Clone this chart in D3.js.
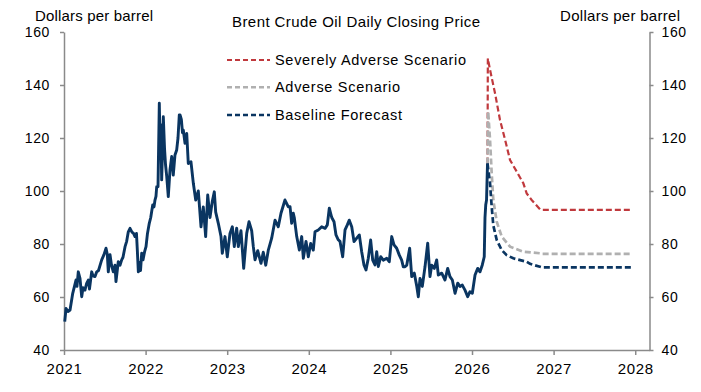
<!DOCTYPE html>
<html><head><meta charset="utf-8">
<script src="https://cdn.jsdelivr.net/npm/d3@7"></script>
<style>
body{margin:0;background:#fff}
svg text{font-family:"Liberation Sans",Arial,sans-serif;fill:#000}
</style></head>
<body><svg id="chart" width="701" height="392"></svg>
<script>
// ---------- data ----------
const yearTicks = [2021, 2022, 2023, 2024, 2025, 2026, 2027, 2028];
const priceTicks = [40, 60, 80, 100, 120, 140, 160];
const chartTitle = "Brent Crude Oil Daily Closing Price";
const axisTitle = "Dollars per barrel";
const seriesNames = ["Severely Adverse Scenario", "Adverse Scenario", "Baseline Forecast"];

// [decimal year, USD per barrel]
const history = [
 [2021.009,50.7],[2021.025,55.7],[2021.049,54.5],[2021.074,55.1],[2021.107,61.4],[2021.147,66.4],
 [2021.159,64.0],[2021.175,69.5],[2021.196,67.0],[2021.217,60.1],[2021.233,63.5],[2021.257,62.6],
 [2021.276,65.0],[2021.298,66.4],[2021.312,63.0],[2021.339,69.5],[2021.355,68.0],[2021.380,67.7],
 [2021.401,69.5],[2021.423,70.0],[2021.462,74.0],[2021.490,76.0],[2021.515,78.4],[2021.531,76.0],
 [2021.543,69.5],[2021.564,76.0],[2021.582,72.0],[2021.604,69.5],[2021.625,72.0],[2021.637,65.8],
 [2021.665,73.3],[2021.686,72.0],[2021.707,74.0],[2021.723,75.0],[2021.748,79.0],[2021.768,81.0],
 [2021.788,84.6],[2021.809,85.9],[2021.833,84.5],[2021.852,84.0],[2021.870,82.8],[2021.888,84.0],
 [2021.898,78.0],[2021.911,69.5],[2021.925,73.0],[2021.938,70.0],[2021.952,76.5],[2021.968,74.0],
 [2021.987,77.0],[2022.005,79.0],[2022.023,84.0],[2022.045,87.8],[2022.063,90.0],[2022.087,94.7],
 [2022.103,94.0],[2022.115,96.6],[2022.127,98.0],[2022.136,101.6],[2022.152,101.6],[2022.168,133.1],
 [2022.176,119.2],[2022.186,125.0],[2022.197,104.2],[2022.207,115.0],[2022.217,128.0],[2022.232,116.0],
 [2022.244,110.0],[2022.259,105.4],[2022.278,97.9],[2022.299,108.0],[2022.320,113.0],[2022.339,106.0],
 [2022.360,113.6],[2022.381,115.5],[2022.397,120.0],[2022.413,128.7],[2022.422,128.7],[2022.438,127.0],
 [2022.452,122.0],[2022.462,123.0],[2022.483,118.0],[2022.504,121.7],[2022.523,110.4],[2022.556,111.0],
 [2022.585,102.9],[2022.614,96.6],[2022.646,100.0],[2022.679,86.5],[2022.707,94.0],[2022.736,82.8],
 [2022.761,98.5],[2022.789,90.0],[2022.817,96.0],[2022.842,99.7],[2022.859,92.0],[2022.891,87.8],
 [2022.924,82.8],[2022.940,76.5],[2022.973,82.8],[2023.001,75.2],[2023.034,84.0],[2023.063,86.5],
 [2023.087,79.0],[2023.116,86.0],[2023.136,79.0],[2023.169,85.0],[2023.202,70.8],[2023.239,84.0],
 [2023.267,88.4],[2023.300,85.0],[2023.320,79.0],[2023.341,74.0],[2023.374,77.5],[2023.414,72.7],
 [2023.442,76.9],[2023.472,72.0],[2023.504,77.7],[2023.545,82.2],[2023.586,89.0],[2023.626,86.5],
 [2023.659,91.6],[2023.708,96.6],[2023.749,94.0],[2023.770,94.1],[2023.790,87.8],[2023.810,91.6],
 [2023.822,90.0],[2023.852,82.8],[2023.884,77.7],[2023.913,82.8],[2023.933,74.6],[2023.966,81.0],
 [2023.994,75.2],[2024.023,80.2],[2024.055,77.7],[2024.076,84.6],[2024.116,85.3],[2024.158,86.5],
 [2024.199,85.9],[2024.227,87.2],[2024.251,93.5],[2024.281,90.0],[2024.309,88.4],[2024.333,83.4],
 [2024.361,81.6],[2024.382,81.0],[2024.415,75.2],[2024.444,85.3],[2024.472,87.2],[2024.496,89.0],
 [2024.526,86.5],[2024.554,80.9],[2024.587,82.2],[2024.619,83.4],[2024.648,77.1],[2024.676,72.1],
 [2024.701,70.2],[2024.729,74.6],[2024.758,81.5],[2024.783,73.9],[2024.811,72.1],[2024.832,77.1],
 [2024.852,71.5],[2024.881,75.2],[2024.913,73.9],[2024.955,74.6],[2024.986,73.3],[2025.016,82.8],
 [2025.044,79.7],[2025.077,78.4],[2025.109,75.8],[2025.138,73.9],[2025.158,71.4],[2025.179,71.4],
 [2025.200,72.0],[2025.236,78.4],[2025.261,67.7],[2025.293,69.0],[2025.322,64.2],[2025.342,60.1],
 [2025.363,67.0],[2025.391,64.0],[2025.424,71.4],[2025.457,80.3],[2025.485,67.7],[2025.506,72.0],
 [2025.538,70.8],[2025.567,74.0],[2025.587,68.3],[2025.629,69.0],[2025.669,66.4],[2025.702,70.8],
 [2025.730,67.7],[2025.759,66.4],[2025.792,61.4],[2025.825,65.2],[2025.853,64.0],[2025.881,64.5],
 [2025.914,62.6],[2025.947,60.1],[2025.975,62.0],[2026.004,61.4],[2026.037,68.3],[2026.070,70.8],
 [2026.098,69.5],[2026.126,72.1],[2026.150,75.2],[2026.159,90.0],[2026.168,94.7],[2026.178,96.6],
 [2026.190,110.4]
];

const severe = [
 [2026.190,110.4],[2026.194,150.0],[2026.221,145.7],[2026.282,136.9],[2026.343,126.8],[2026.404,119.5],
 [2026.466,111.7],[2026.548,107.3],[2026.629,102.9],[2026.670,99.1],[2026.731,96.6],[2026.833,93.1],
 [2026.854,92.9],[2027.957,92.9]
];
const adverse = [
 [2026.190,110.4],[2026.198,130.0],[2026.221,119.2],[2026.241,106.7],[2026.261,96.6],[2026.303,88.4],
 [2026.364,82.8],[2026.466,79.0],[2026.629,77.1],[2026.833,76.5],[2026.854,76.3],[2027.957,76.3]
];
const baseline = [
 [2026.190,110.4],[2026.221,102.9],[2026.241,94.1],[2026.261,87.0],[2026.303,81.5],[2026.364,77.7],
 [2026.425,75.8],[2026.506,74.6],[2026.670,73.3],[2026.711,72.5],[2026.833,71.4],[2026.854,71.2],
 [2027.957,71.2]
];

// ---------- layout ----------
const navy = "#0a3561", red = "#c0393d", grey = "#b0b0b0", axisCol = "#8a8a8a";
const svg = d3.select("#chart");
const x = d3.scaleLinear().domain([2021, 2028.175]).range([64, 649.5]);
const y = d3.scaleLinear().domain([40, 160]).range([350, 32]);

function styleAxis(g, fs) {
  g.select(".domain").attr("stroke", axisCol).attr("stroke-width", 1.5);
  g.selectAll(".tick line").attr("stroke", axisCol).attr("stroke-width", 1.5);
  g.selectAll(".tick text").attr("font-size", fs).attr("fill", "#000")
    .attr("font-family", '"Liberation Sans", Arial, sans-serif').attr("letter-spacing", "0.6px");
}

const gx = svg.append("g").attr("transform", "translate(0,350)")
  .call(d3.axisBottom(x).tickValues(yearTicks).tickFormat(d3.format("d")).tickSize(5).tickSizeOuter(0).tickPadding(8));
styleAxis(gx, 15);

const gl = svg.append("g").attr("transform", "translate(64,0)")
  .call(d3.axisLeft(y).tickValues(priceTicks).tickSize(4).tickSizeOuter(0).tickPadding(10));
styleAxis(gl, 14);

const gr = svg.append("g").attr("transform", "translate(649.5,0)")
  .call(d3.axisRight(y).tickValues(priceTicks).tickSize(4).tickSizeOuter(0).tickPadding(8));
styleAxis(gr, 14);

// ---------- lines ----------
const line = d3.line().x(d => x(d[0])).y(d => y(d[1]));

svg.append("path").datum(severe).attr("d", line).attr("fill", "none")
  .attr("stroke", red).attr("stroke-width", 2.2).attr("stroke-dasharray", "6,3");
svg.append("path").datum(adverse).attr("d", line).attr("fill", "none")
  .attr("stroke", grey).attr("stroke-width", 2.7).attr("stroke-dasharray", "6,3");
svg.append("path").datum(baseline).attr("d", line).attr("fill", "none")
  .attr("stroke", navy).attr("stroke-width", 2.7).attr("stroke-dasharray", "6,3");
svg.append("path").datum(history).attr("d", line).attr("fill", "none")
  .attr("stroke", navy).attr("stroke-width", 2.9).attr("stroke-linejoin", "round");

// ---------- text ----------
svg.append("text").attr("x", 232).attr("y", 26.5).attr("font-size", 15)
  .attr("textLength", 248).attr("lengthAdjust", "spacing").text(chartTitle);
svg.append("text").attr("x", 35).attr("y", 20.5).attr("font-size", 15)
  .attr("textLength", 118).attr("lengthAdjust", "spacing").text(axisTitle);
svg.append("text").attr("x", 560).attr("y", 20.5).attr("font-size", 15)
  .attr("textLength", 120).attr("lengthAdjust", "spacing").text(axisTitle);

// ---------- legend ----------
const legendColors = [red, grey, navy];
const legendY = [60, 87.3, 115];
const legendW = [191, 125, 127];
seriesNames.forEach((name, i) => {
  svg.append("line").attr("x1", 227).attr("x2", 270).attr("y1", legendY[i]).attr("y2", legendY[i])
    .attr("stroke", legendColors[i]).attr("stroke-width", i === 0 ? 2 : 2.5).attr("stroke-dasharray", "5,3");
  svg.append("text").attr("x", 275).attr("y", legendY[i] + 5).attr("font-size", 14.5)
    .attr("textLength", legendW[i]).attr("lengthAdjust", "spacing").text(name);
});
</script></body></html>
